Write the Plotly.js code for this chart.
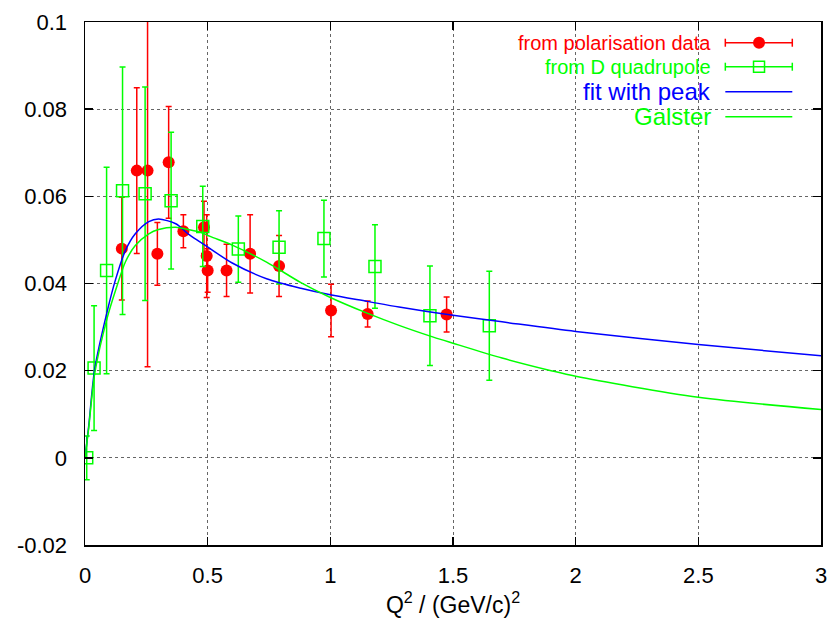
<!DOCTYPE html>
<html>
<head>
<meta charset="utf-8">
<script src="https://cdn.plot.ly/plotly-3.0.1.min.js"></script>
<style>
  html, body { margin: 0; padding: 0; background: #ffffff; }
  #chart { width: 832px; height: 623px; }
</style>
</head>
<body>
<div id="chart"></div>
<script>
// ---- data ----
// "from polarisation data" (red filled circles)
var polQ2  = [0.150, 0.211, 0.255, 0.295, 0.341, 0.401, 0.485, 0.496, 0.500, 0.577, 0.673, 0.791, 1.003, 1.152, 1.474];
var polGE  = [0.0480, 0.0659, 0.0659, 0.0468, 0.0678, 0.0520, 0.0529, 0.0463, 0.0430, 0.0430, 0.0468, 0.0440, 0.0338, 0.0330, 0.0329];
var polErr = [0.0118, 0.0190, 0.0450, 0.0072, 0.0128, 0.0038, 0.0060, 0.0095, 0.0050, 0.0060, 0.0090, 0.0070, 0.0060, 0.0030, 0.0040];

// "from D quadrupole" (green open squares)
var quadQ2  = [0.007, 0.037, 0.088, 0.153, 0.245, 0.351, 0.480, 0.625, 0.791, 0.974, 1.182, 1.406, 1.648];
var quadGE  = [0.0000, 0.0206, 0.0430, 0.0613, 0.0606, 0.0590, 0.0531, 0.0479, 0.0483, 0.0503, 0.0439, 0.0326, 0.0303];
var quadErr = [0.0050, 0.0143, 0.0237, 0.0284, 0.0245, 0.0157, 0.0092, 0.0076, 0.0084, 0.0088, 0.0096, 0.0114, 0.0125];

// "fit with peak" (blue curve)
var fitQ2 = [0, 0.015, 0.04, 0.09, 0.125, 0.165, 0.205, 0.26, 0.30, 0.37, 0.42, 0.47, 0.51, 0.6, 0.74, 0.88, 1.0, 1.15, 1.28, 1.5, 1.7, 2.0, 2.5, 3.0];
var fitGE = [0, 0.0072, 0.0205, 0.0335, 0.0410, 0.0476, 0.0514, 0.0542, 0.0548, 0.0537, 0.0514, 0.0495, 0.0480, 0.0447, 0.0411, 0.0389, 0.0374, 0.0359, 0.0346, 0.0327, 0.0312, 0.0290, 0.0260, 0.0234];

// "Galster" (green curve)
var galQ2 = [0, 0.015, 0.04, 0.09, 0.125, 0.165, 0.205, 0.26, 0.30, 0.37, 0.42, 0.47, 0.51, 0.6, 0.74, 0.88, 1.0, 1.15, 1.28, 1.42, 1.5, 1.7, 1.9, 2.0, 2.5, 3.0];
var galGE = [0, 0.0068, 0.0195, 0.0320, 0.0385, 0.0450, 0.0487, 0.0514, 0.0524, 0.0529, 0.0524, 0.0518, 0.0508, 0.0488, 0.0449, 0.0402, 0.0368, 0.0332, 0.0304, 0.0277, 0.0263, 0.0229, 0.0200, 0.0187, 0.0139, 0.0111];

// legend labels
var seriesNames = ["from polarisation data", "from D quadrupole", "fit with peak", "Galster"];

// ticks
var xTickVals = [0, 0.5, 1, 1.5, 2, 2.5, 3];
var xTickText = ["0", "0.5", "1", "1.5", "2", "2.5", "3"];
var yTickVals = [-0.02, 0, 0.02, 0.04, 0.06, 0.08, 0.1];
var yTickText = ["-0.02", "0", "0.02", "0.04", "0.06", "0.08", "0.1"];

// ---- styles ----
var RED = "#ff0000", GREEN = "#00ff00", BLUE = "#0000ff";
var FONT = "Liberation Sans, Arial, Helvetica, sans-serif";

var traces = [
  {
    x: polQ2, y: polGE, name: seriesNames[0], type: "scatter", mode: "markers",
    marker: { symbol: "circle", size: 12, color: RED },
    error_y: { type: "data", array: polErr, visible: true, color: RED, thickness: 1.5, width: 3 },
    cliponaxis: true
  },
  {
    x: quadQ2, y: quadGE, name: seriesNames[1], type: "scatter", mode: "markers",
    marker: { symbol: "square-open", size: 12, color: GREEN, line: { width: 1.5, color: GREEN } },
    error_y: { type: "data", array: quadErr, visible: true, color: GREEN, thickness: 1.5, width: 3 },
    cliponaxis: true
  },
  {
    x: fitQ2, y: fitGE, name: seriesNames[2], type: "scatter", mode: "lines",
    line: { color: BLUE, width: 1.5, shape: "spline", smoothing: 0.8 }
  },
  {
    x: galQ2, y: galGE, name: seriesNames[3], type: "scatter", mode: "lines",
    line: { color: GREEN, width: 1.5, shape: "spline", smoothing: 0.8 }
  }
];

// legend (gnuplot style: text right-aligned, sample to the right)
var legTextX = 0.8535, legS0 = 0.870, legS1 = 0.961, legMid = 0.9158;
var legY = [0.9604, 0.9145, 0.8667, 0.8189];
var legColors = [RED, GREEN, BLUE, GREEN];
var legSizes = [20, 20, 24, 24];

var annotations = [];
for (var i = 0; i < 4; i++) {
  annotations.push({
    xref: "paper", yref: "paper", x: legTextX, y: legY[i],
    xanchor: "right", yanchor: "middle", showarrow: false,
    text: seriesNames[i], font: { family: FONT, size: legSizes[i], color: legColors[i] }
  });
}

var shapes = [
  // white legend box that hides the grid behind the key (as in gnuplot)
  { type: "rect", xref: "paper", yref: "paper", x0: 0.265, x1: 0.982, y0: 0.797, y1: 1.0,
    fillcolor: "#ffffff", line: { width: 0 }, layer: "between" }
];
for (var j = 0; j < 4; j++) {
  shapes.push({ type: "line", xref: "paper", yref: "paper", x0: legS0, x1: legS1, y0: legY[j], y1: legY[j],
    line: { color: legColors[j], width: 1.5 } });
}
// caps for the error-bar samples
[0, 1].forEach(function (k) {
  [legS0, legS1].forEach(function (xx) {
    shapes.push({ type: "line", xref: "paper", yref: "paper", ysizemode: "pixel", yanchor: legY[k],
      x0: xx, x1: xx, y0: -4, y1: 4, line: { color: legColors[k], width: 1.5 } });
  });
});
shapes.push({ type: "circle", xref: "paper", yref: "paper", xsizemode: "pixel", ysizemode: "pixel",
  xanchor: legMid, yanchor: legY[0], x0: -6, x1: 6, y0: -6, y1: 6, fillcolor: RED, line: { color: RED, width: 0 } });
shapes.push({ type: "rect", xref: "paper", yref: "paper", xsizemode: "pixel", ysizemode: "pixel",
  xanchor: legMid, yanchor: legY[1], x0: -5.5, x1: 5.5, y0: -5.5, y1: 5.5, fillcolor: "rgba(0,0,0,0)", line: { color: GREEN, width: 1.5 } });

var axisCommon = {
  showline: true, linecolor: "#000000", linewidth: 1.5, mirror: "ticks",
  ticks: "inside", ticklen: 8, tickwidth: 1.5, tickcolor: "#000000",
  showgrid: true, gridcolor: "#666666", gridwidth: 1, griddash: "dot",
  zeroline: false, tickmode: "array",
  tickfont: { family: FONT, size: 22, color: "#000000" }
};

var layout = {
  width: 832, height: 623,
  margin: { l: 85, r: 11, t: 22, b: 78 },
  paper_bgcolor: "#ffffff", plot_bgcolor: "#ffffff",
  showlegend: false,
  font: { family: FONT, color: "#000000" },
  xaxis: Object.assign({}, axisCommon, {
    range: [0, 3], tickvals: xTickVals, ticktext: xTickText, ticklabelstandoff: 10,
    title: { text: "Q<sup>2</sup> / (GeV/c)<sup>2</sup>", font: { family: FONT, size: 23, color: "#000000" }, standoff: 4 }
  }),
  yaxis: Object.assign({}, axisCommon, {
    range: [-0.02, 0.1], tickvals: yTickVals, ticktext: yTickText, ticklabelstandoff: 12
  }),
  annotations: annotations,
  shapes: shapes
};

Plotly.newPlot("chart", traces, layout, { displayModeBar: false, staticPlot: true });
</script>
</body>
</html>
